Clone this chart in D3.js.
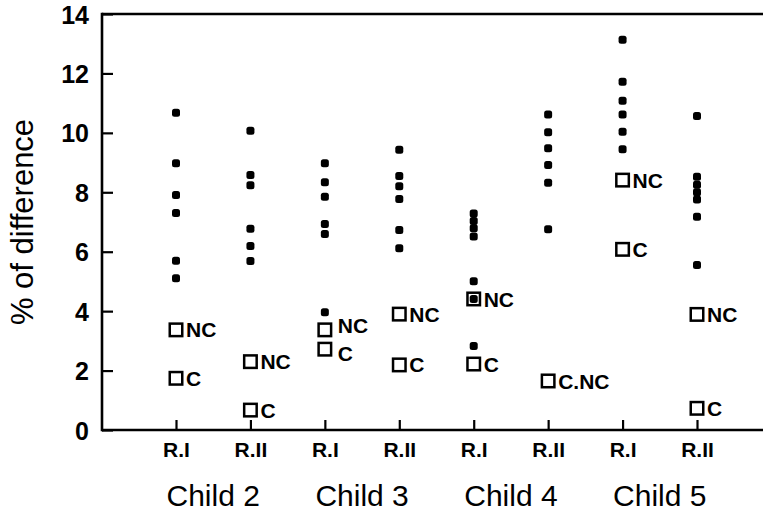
<!DOCTYPE html>
<html>
<head>
<meta charset="utf-8">
<script src="https://cdn.jsdelivr.net/npm/d3@7"></script>
<style>
  html, body { margin: 0; padding: 0; background: #fff; }
  svg { display: block; }
  text { font-family: "Liberation Sans", Arial, Helvetica, sans-serif; fill: #000; }
</style>
</head>
<body>
<svg id="chart" width="763" height="514"></svg>
<script>
// Children and reading rounds along the x axis
const children = ["Child 2", "Child 3", "Child 4", "Child 5"];
const rounds = ["R.I", "R.II"];

// Individual measurements (% of difference) per child / round, in column order
const dotsC2R1 = [10.68, 8.98, 7.91, 7.30, 5.70, 5.11];
const dotsC2R2 = [10.07, 8.58, 8.24, 6.77, 6.19, 5.69];
const dotsC3R1 = [8.98, 8.34, 7.85, 6.93, 6.60, 3.96];
const dotsC3R2 = [9.43, 8.55, 8.20, 7.77, 6.73, 6.12];
const dotsC4R1 = [7.29, 7.03, 6.79, 6.51, 5.01, 4.41, 2.83];
const dotsC4R2 = [10.62, 10.02, 9.48, 8.92, 8.32, 6.76];
const dotsC5R1 = [13.13, 11.72, 11.08, 10.62, 10.04, 9.45];
const dotsC5R2 = [10.57, 8.52, 8.25, 8.00, 7.76, 7.18, 5.55];

// Reference values: NC and C, per column
const ncValues = [3.37, 2.30, 3.37, 3.90, 4.41, 1.65, 8.41, 3.89];
const cValues  = [1.74, 0.67, 2.72, 2.19, 2.22, 1.65, 6.08, 0.73];

// Y axis ticks
const yTicks = [0, 2, 4, 6, 8, 10, 12, 14];

const dotSets = [dotsC2R1, dotsC2R2, dotsC3R1, dotsC3R2, dotsC4R1, dotsC4R2, dotsC5R1, dotsC5R2];
const columns = children.flatMap(ch => rounds.map(r => ({ child: ch, round: r, key: ch + "|" + r })));
columns.forEach((c, i) => { c.dots = dotSets[i]; c.nc = ncValues[i]; c.c = cValues[i]; });

const svg = d3.select("#chart");
const W = 763;
const plotLeft = 102, plotTop = 14, plotBottom = 430;

const x = d3.scalePoint().domain(columns.map(c => c.key)).range([176, 697]);
const y = d3.scaleLinear().domain([0, 14]).range([plotBottom, plotTop]);

// Frame: top rule and left/bottom axes
svg.append("line").attr("x1", plotLeft).attr("x2", W).attr("y1", plotTop).attr("y2", plotTop)
  .attr("stroke", "#000").attr("stroke-width", 2.6);

const yAxis = d3.axisLeft(y).tickValues(yTicks).tickSize(-11).tickPadding(0).tickFormat(d3.format("d"));
const gy = svg.append("g").attr("transform", `translate(${plotLeft},0)`).call(yAxis);
gy.select(".domain").remove();
gy.selectAll(".tick line").attr("stroke", "#000").attr("stroke-width", 2.2);
gy.selectAll(".tick text").attr("x", -13).attr("dy", "0.36em")
  .style("font-size", "25px").style("font-weight", "bold")
  .style("font-family", "'Liberation Sans', Arial, sans-serif");
svg.append("line").attr("x1", plotLeft).attr("x2", plotLeft).attr("y1", plotTop - 1.3).attr("y2", plotBottom + 1.3)
  .attr("stroke", "#000").attr("stroke-width", 2.6);

const xAxis = d3.axisBottom(x).tickSize(-10).tickPadding(0).tickFormat(k => k.split("|")[1]);
const gx = svg.append("g").attr("transform", `translate(0,${plotBottom})`).call(xAxis);
gx.select(".domain").remove();
gx.selectAll(".tick line").attr("stroke", "#000").attr("stroke-width", 2.2);
gx.selectAll(".tick text").attr("y", 27).attr("dy", 0)
  .style("font-size", "21px").style("font-weight", "bold")
  .style("font-family", "'Liberation Sans', Arial, sans-serif");
svg.append("line").attr("x1", plotLeft).attr("x2", W).attr("y1", plotBottom).attr("y2", plotBottom)
  .attr("stroke", "#000").attr("stroke-width", 2.6);

// Child group labels, centred under each pair of rounds
svg.selectAll(".child").data(children).join("text")
  .attr("class", "child")
  .attr("x", ch => (x(ch + "|R.I") + x(ch + "|R.II")) / 2)
  .attr("y", 506)
  .attr("text-anchor", "middle")
  .style("font-size", "30px")
  .text(ch => ch);

// Y axis title
svg.append("text")
  .attr("transform", "translate(33,222) rotate(-90)")
  .attr("text-anchor", "middle")
  .style("font-size", "31px")
  .text("% of difference");

// Open squares for the NC / C reference values, with their labels
const boxes = [];
columns.forEach(c => {
  if (c.nc === c.c) {
    boxes.push({ key: c.key, v: c.c, label: "C.NC", nudge: 0 });
  } else {
    const close = Math.abs(y(c.nc) - y(c.c)) < 25;
    boxes.push({ key: c.key, v: c.nc, label: "NC", nudge: close ? -4 : 0, dx: close ? 3 : 0 });
    boxes.push({ key: c.key, v: c.c, label: "C", nudge: close ? 4 : 0, dx: close ? 3 : 0 });
  }
});

const bs = 12.5;
svg.selectAll(".box").data(boxes).join("rect")
  .attr("class", "box")
  .attr("x", d => x(d.key) - bs / 2)
  .attr("y", d => y(d.v) - bs / 2)
  .attr("width", bs).attr("height", bs)
  .attr("fill", "none").attr("stroke", "#000").attr("stroke-width", 2.5);

svg.selectAll(".boxlabel").data(boxes).join("text")
  .attr("class", "boxlabel")
  .attr("x", d => x(d.key) + 10 + (d.dx || 0))
  .attr("y", d => y(d.v) + d.nudge)
  .attr("dy", "0.36em")
  .style("font-size", "21px").style("font-weight", "bold")
  .text(d => d.label);

// Filled points for the individual measurements
const pts = columns.flatMap(c => c.dots.map(v => ({ key: c.key, v })));
const ds = 8;
svg.selectAll(".dot").data(pts).join("rect")
  .attr("class", "dot")
  .attr("x", d => x(d.key) - ds / 2)
  .attr("y", d => y(d.v) - ds / 2)
  .attr("width", ds).attr("height", ds)
  .attr("rx", 2.5).attr("ry", 2.5)
  .attr("fill", "#000");
</script>
</body>
</html>
